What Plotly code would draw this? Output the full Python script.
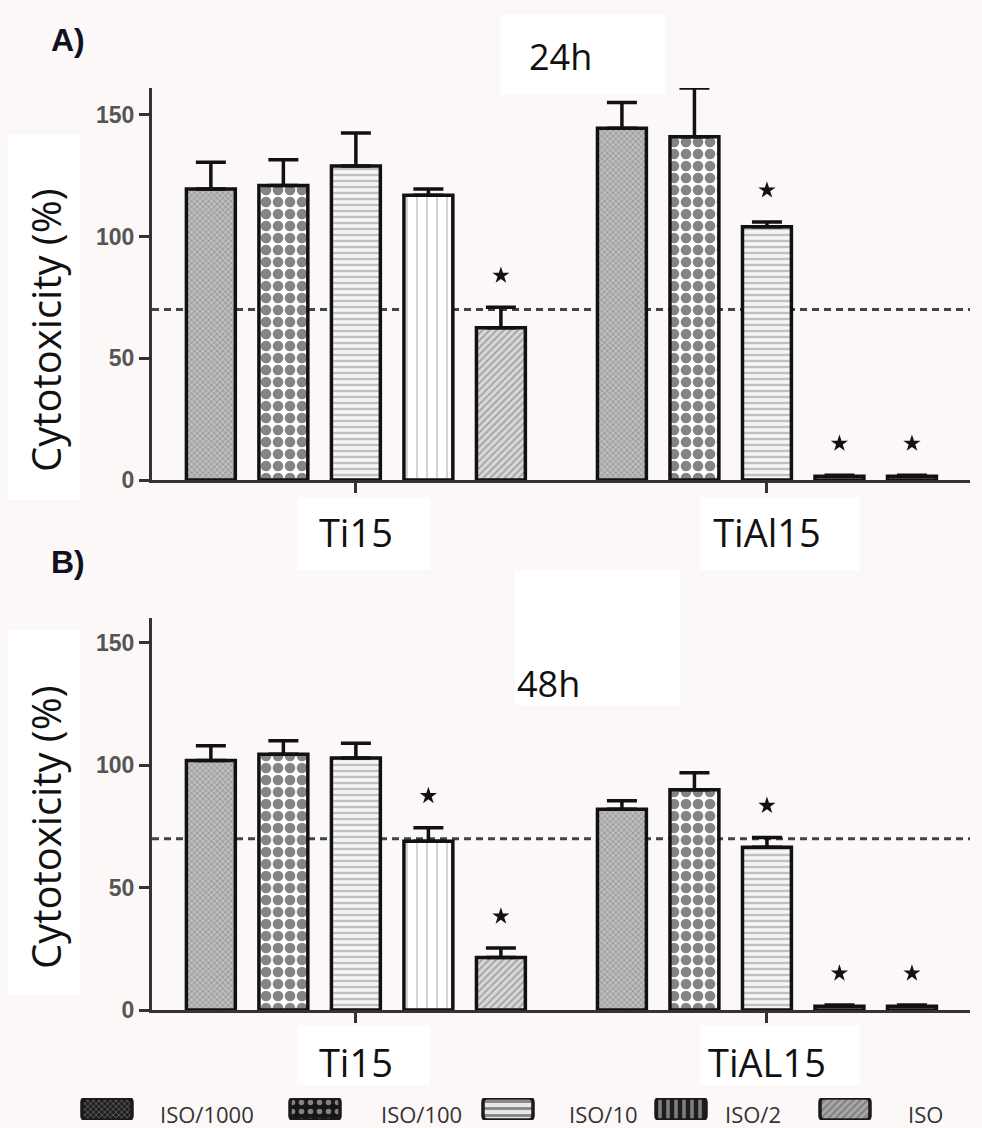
import plotly.graph_objects as go

# ---------------- data ----------------
series = ["ISO/1000", "ISO/100", "ISO/10", "ISO/2", "ISO"]
groups_24h = ["Ti15", "TiAl15"]
groups_48h = ["Ti15", "TiAL15"]

ti15_24h = [119.5, 121.0, 129.0, 117.0, 62.5]
ti15_24h_err = [11.0, 10.5, 13.5, 2.5, 8.5]
ti15_24h_sig = [0, 0, 0, 0, 1]
tial15_24h = [144.5, 141.0, 104.0, 1.5, 1.5]
tial15_24h_err = [10.5, 20.0, 2.0, 0.5, 0.5]
tial15_24h_sig = [0, 0, 1, 1, 1]

ti15_48h = [102.0, 104.5, 103.0, 69.0, 21.5]
ti15_48h_err = [6.0, 5.5, 6.0, 5.5, 3.8]
ti15_48h_sig = [0, 0, 0, 1, 1]
tial15_48h = [82.0, 90.0, 66.5, 1.5, 1.5]
tial15_48h_err = [3.5, 7.0, 4.0, 0.5, 0.5]
tial15_48h_sig = [0, 0, 1, 1, 1]

threshold = 70
y_ticks = [0, 50, 100, 150]
star_offset = 13

# ---------------- styles / layout ----------------
W, H = 982, 1128
slot = 0.1764
bar_w = 0.119
offsets = [(i - (len(series) - 1) / 2) * slot for i in range(len(series))]

bar_patterns = [
    dict(shape="x", fgcolor="#505050", bgcolor="#bdbdbd", size=4, solidity=0.3),
    dict(shape=".", fgcolor="#0a0a0a", bgcolor="#ffffff", size=12, solidity=0.62),
    dict(shape="-", fgcolor="#8a8a8a", bgcolor="#f6f6f6", size=6, solidity=0.4),
    dict(shape="|", fgcolor="#8a8a8a", bgcolor="#ffffff", size=10, solidity=0.15),
    dict(shape="/", fgcolor="#6e6e6e", bgcolor="#d8d8d8", size=5, solidity=0.35),
]
legend_patterns = [
    dict(shape="x", fgcolor="#b0b0b0", bgcolor="#1e1e1e", size=4, solidity=0.35),
    dict(shape=".", fgcolor="#f0f0f0", bgcolor="#161616", size=9, solidity=0.3),
    dict(shape="-", fgcolor="#222222", bgcolor="#e6e6e6", size=7, solidity=0.4),
    dict(shape="|", fgcolor="#dddddd", bgcolor="#1e1e1e", size=8, solidity=0.45),
    dict(shape="/", fgcolor="#555555", bgcolor="#a8a8a8", size=5, solidity=0.4),
]
legend_swatch_x = [107, 315, 508, 681, 845]
legend_text_x = [207, 421, 603, 753, 925]

fig = go.Figure()

panels = [
    ("x", "y", groups_24h, [ti15_24h, tial15_24h], [ti15_24h_err, tial15_24h_err],
     [ti15_24h_sig, tial15_24h_sig]),
    ("x2", "y2", groups_48h, [ti15_48h, tial15_48h], [ti15_48h_err, tial15_48h_err],
     [ti15_48h_sig, tial15_48h_sig]),
]

for xa, ya, groups, vals, errs, sigs in panels:
    for i, name in enumerate(series):
        fig.add_trace(go.Bar(
            x=[g + offsets[i] for g in range(len(groups))],
            y=[v[i] for v in vals],
            width=bar_w,
            name=name,
            showlegend=False,
            xaxis=xa, yaxis=ya,
            marker=dict(line=dict(color="#111111", width=3.5), pattern=bar_patterns[i]),
            error_y=dict(type="data", symmetric=False,
                         array=[e[i] for e in errs], arrayminus=[0] * len(groups),
                         color="#111111", thickness=3.5, width=15),
        ))
    sx, sy = [], []
    for g in range(len(groups)):
        for i in range(len(series)):
            if sigs[g][i]:
                sx.append(g + offsets[i])
                sy.append(vals[g][i] + errs[g][i] + star_offset)
    fig.add_trace(go.Scatter(
        x=sx, y=sy, mode="markers", xaxis=xa, yaxis=ya, showlegend=False,
        marker=dict(symbol="star", size=13, color="#111111"),
    ))

# custom legend swatches (one bar per series on a hidden strip axis)
for i, name in enumerate(series):
    fig.add_trace(go.Bar(
        x=[legend_swatch_x[i]], y=[1], base=0, width=50, name=name, showlegend=False,
        xaxis="x3", yaxis="y3",
        marker=dict(line=dict(color="#1a1a1a", width=3.5), pattern=legend_patterns[i],
                    cornerradius=4),
    ))


def px_x(p):
    return p / W


def px_y(p):
    return 1 - p / H


xdom = [px_x(152), px_x(970)]
axis_common = dict(showline=True, linecolor="#333333", linewidth=3, showgrid=False,
                   zeroline=False, ticks="outside", ticklen=10, tickwidth=3,
                   tickcolor="#333333", automargin=False)

xaxis_base = dict(axis_common, range=[-0.496, 1.494], tickvals=[0, 1],
                  tickfont=dict(family="Open Sans", size=38, color="#111111"),
                  ticklabelstandoff=8)
yaxis_base = dict(axis_common, tickvals=y_ticks,
                  tickfont=dict(family="Liberation Sans", size=23, color="#555555",
                                weight="bold"))

fig.update_layout(
    width=W, height=H,
    margin=dict(l=0, r=0, t=0, b=0, pad=0, autoexpand=False),
    paper_bgcolor="#fcf8f7",
    plot_bgcolor="rgba(0,0,0,0)",
    barmode="overlay",
    showlegend=False,
    xaxis=dict(xaxis_base, domain=xdom, anchor="y", ticktext=groups_24h),
    yaxis=dict(yaxis_base, domain=[px_y(480), px_y(88)], range=[0, 161], anchor="x"),
    xaxis2=dict(xaxis_base, domain=xdom, anchor="y2", ticktext=groups_48h),
    yaxis2=dict(yaxis_base, domain=[px_y(1010), px_y(618)], range=[0, 160.2], anchor="x2"),
    xaxis3=dict(domain=[0, 1], range=[0, W], visible=False, anchor="y3", automargin=False),
    yaxis3=dict(domain=[px_y(1120), px_y(1098)], range=[0, 1], visible=False, anchor="x3",
                automargin=False),
)

shapes = []
# white label boxes on the tinted page
for x0, y0, x1, y1 in [(8, 135, 80, 500), (500, 15, 665, 95), (297, 497, 430, 570),
                       (700, 497, 860, 570), (8, 630, 80, 995), (515, 570, 680, 705),
                       (297, 1025, 430, 1085), (700, 1025, 860, 1085)]:
    shapes.append(dict(type="rect", xref="paper", yref="paper", x0=px_x(x0), x1=px_x(x1),
                       y0=px_y(y1), y1=px_y(y0), fillcolor="white", line=dict(width=0),
                       layer="below"))
for xr, yr in [("x domain", "y"), ("x2 domain", "y2")]:
    shapes.append(dict(type="line", xref=xr, yref=yr, x0=0, x1=1, y0=threshold, y1=threshold,
                       line=dict(color="#444444", width=3, dash="7px,5px"), layer="below"))
fig.update_layout(shapes=shapes)


def note(text, x, y, font, angle=0):
    return dict(text=text, x=px_x(x), y=px_y(y), xref="paper", yref="paper",
                showarrow=False, font=font, textangle=angle,
                xanchor="center", yanchor="middle")


ann = []
title_font = dict(family="Open Sans", size=40, color="#111111")
ann.append(note("Cytotoxicity (%)", 45, 330, title_font, -90))
ann.append(note("Cytotoxicity (%)", 45, 827, title_font, -90))
ann.append(note("24h", 560, 57, dict(family="Open Sans", size=36, color="#111111")))
ann.append(note("48h", 548, 683, dict(family="Open Sans", size=36, color="#111111")))
for lab, yy in [("A)", 40), ("B)", 562)]:
    ann.append(note(lab, 68, yy, dict(family="Liberation Sans", size=32, color="#111122",
                                      weight="bold")))
for i, name in enumerate(series):
    ann.append(note(name, legend_text_x[i], 1114,
                    dict(family="Open Sans", size=22, color="#333333")))
fig.update_layout(annotations=ann)

fig.write_html("out.html")
